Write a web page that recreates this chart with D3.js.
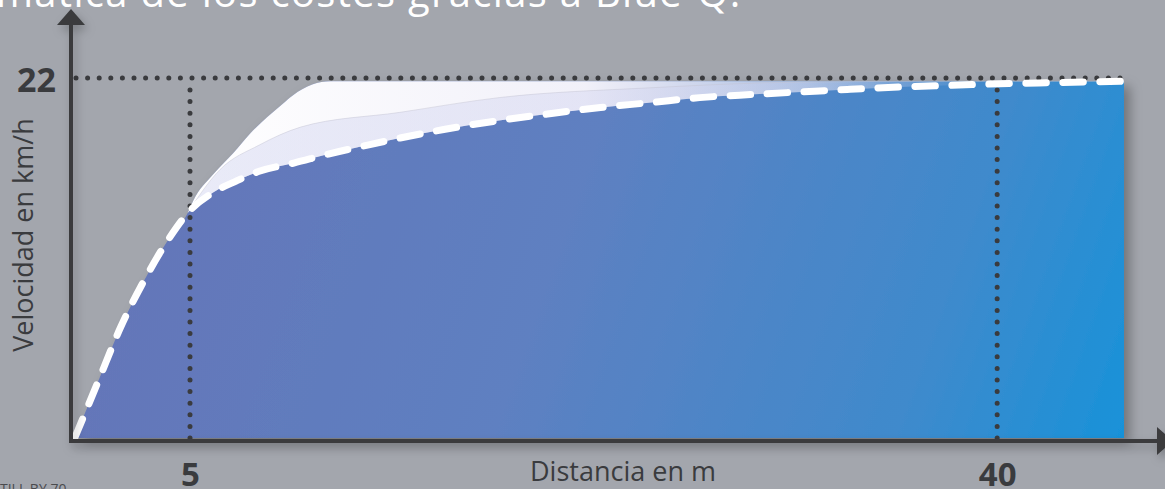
<!DOCTYPE html>
<html>
<head>
<meta charset="utf-8">
<script src="https://cdn.jsdelivr.net/npm/d3@7"></script>
<style>
  html, body { margin: 0; padding: 0; background: #a3a6ad; overflow: hidden; }
  svg { display: block; font-family: "Open Sans", "DejaVu Sans", sans-serif; }
</style>
</head>
<body>
<div id="chart"></div>
<script>
// speed curve (dashed) - distance in m, speed in km/h
var distance = [0, 1, 2, 3, 4, 5, 6, 7, 8, 9.5, 11, 12.7, 14, 16, 18.4, 20.5, 22.8, 25, 27.1, 29.5, 31.5, 33.5, 35.8, 38, 40.1, 42.5, 45.5]
var speed = [0, 3.4, 6.8, 9.6, 12.0, 13.9, 15.0, 15.7, 16.3, 16.8, 17.35, 17.9, 18.3, 18.85, 19.4, 19.8, 20.2, 20.5, 20.8, 21.0, 21.15, 21.3, 21.45, 21.55, 21.65, 21.72, 21.8]

// upper edge of the white "potential" shape
var upperDistance = [4.9, 5.14, 6, 6.87, 7.6, 8.34, 9.0, 9.47, 10.3, 11.1, 20, 30, 45.5]
var upperSpeed = [13.75, 14.5, 16.1, 17.4, 18.6, 19.6, 20.4, 20.95, 21.6, 21.8, 21.8, 21.8, 21.8]

// faint line inside the white shape
var innerDistance = [5.0, 6.3, 8.0, 9.8, 14.1, 18.4, 24.95, 31.5, 38, 45.5]
var innerSpeed = [14.0, 16.4, 17.9, 19.0, 19.9, 20.8, 21.4, 21.75, 21.8, 21.8]

var xTicks = [5, 40]
var yTicks = [22]
var xMax = 45.5
var yMax = 22

var W = 1165, H = 489

var svg = d3.select("#chart").append("svg")
    .attr("width", W)
    .attr("height", H)

var defs = svg.append("defs")

var x = d3.scaleLinear().domain([0, xMax]).range([74.7, 1124])
var y = d3.scaleLinear().domain([0, yMax]).range([438, 78])

// gradients
var blueGrad = defs.append("linearGradient").attr("id", "blueGrad")
    .attr("gradientUnits", "userSpaceOnUse")
    .attr("x1", 100).attr("y1", 80).attr("x2", 1125).attr("y2", 440)
blueGrad.append("stop").attr("offset", 0).attr("stop-color", "#6674b7")
blueGrad.append("stop").attr("offset", 0.45).attr("stop-color", "#5e80c1")
blueGrad.append("stop").attr("offset", 0.8).attr("stop-color", "#3f8acc")
blueGrad.append("stop").attr("offset", 1).attr("stop-color", "#1892d9")

var whiteGrad = defs.append("linearGradient").attr("id", "whiteGrad")
    .attr("gradientUnits", "userSpaceOnUse")
    .attr("x1", 190).attr("y1", 0).attr("x2", 980).attr("y2", 0)
whiteGrad.append("stop").attr("offset", 0).attr("stop-color", "#ffffff").attr("stop-opacity", 1)
whiteGrad.append("stop").attr("offset", 0.5).attr("stop-color", "#f6f4fb").attr("stop-opacity", 0.97)
whiteGrad.append("stop").attr("offset", 0.78).attr("stop-color", "#e8e7f5").attr("stop-opacity", 0.6)
whiteGrad.append("stop").attr("offset", 1).attr("stop-color", "#dcdcf0").attr("stop-opacity", 0)

var lavGrad = defs.append("linearGradient").attr("id", "lavGrad")
    .attr("gradientUnits", "userSpaceOnUse")
    .attr("x1", 190).attr("y1", 0).attr("x2", 900).attr("y2", 0)
lavGrad.append("stop").attr("offset", 0).attr("stop-color", "#cfd2ef").attr("stop-opacity", 0.45)
lavGrad.append("stop").attr("offset", 0.6).attr("stop-color", "#cfd2ef").attr("stop-opacity", 0.4)
lavGrad.append("stop").attr("offset", 1).attr("stop-color", "#cfd2ef").attr("stop-opacity", 0)

var shadow = defs.append("filter").attr("id", "shadow")
    .attr("x", "-5%").attr("y", "-5%").attr("width", "115%").attr("height", "125%")
shadow.append("feDropShadow")
    .attr("dx", 6).attr("dy", 5).attr("stdDeviation", 6)
    .attr("flood-color", "#000").attr("flood-opacity", 0.3)

var axShadow = defs.append("filter").attr("id", "axShadow")
    .attr("x", "-5%").attr("y", "-5%").attr("width", "115%").attr("height", "130%")
axShadow.append("feDropShadow")
    .attr("dx", 3).attr("dy", 5).attr("stdDeviation", 5)
    .attr("flood-color", "#000").attr("flood-opacity", 0.25)

// title (cut off at top, as in the source)
svg.append("text")
    .attr("x", -4)
    .attr("y", 7)
    .attr("fill", "#ffffff")
    .style("font-size", "40px")
    .style("letter-spacing", "1.3px")
    .text("mática de los costes gracias a Blue-Q.")

var pts = distance.map(function (d, i) { return [d, speed[i]] })
var upPts = upperDistance.map(function (d, i) { return [d, upperSpeed[i]] })
var inPts = innerDistance.map(function (d, i) { return [d, innerSpeed[i]] })

var line = d3.line()
    .x(function (d) { return x(d[0]) })
    .y(function (d) { return y(d[1]) })
    .curve(d3.curveMonotoneX)

// blue area: dashed curve until the white shape starts, then the upper edge
var bluePts = pts.filter(function (d) { return d[0] < upperDistance[0] }).concat(upPts)
var blueArea = d3.area()
    .x(function (d) { return x(d[0]) })
    .y0(y(0))
    .y1(function (d) { return y(d[1]) })
    .curve(d3.curveMonotoneX)

svg.append("path")
    .datum(bluePts)
    .attr("d", blueArea)
    .attr("fill", "url(#blueGrad)")
    .attr("filter", "url(#shadow)")

// white shape between upper edge and dashed curve
var tailPts = pts.filter(function (d) { return d[0] >= upperDistance[0] })

function band(topPts, botPts) {
    var a = line(topPts)
    var b = line(botPts.slice().reverse())
    return a + "L" + b.slice(1) + "Z"
}

svg.append("path")
    .attr("d", band(upPts, tailPts))
    .attr("fill", "url(#whiteGrad)")

svg.append("path")
    .attr("d", band(inPts, tailPts.filter(function (d) { return d[0] >= 5 })))
    .attr("fill", "url(#lavGrad)")

svg.append("path")
    .datum(inPts)
    .attr("d", line)
    .attr("fill", "none")
    .attr("stroke", "#c4c4d2")
    .attr("stroke-width", 0.8)
    .attr("stroke-opacity", 0.6)

// dotted guides
var dots = svg.append("g")
    .attr("stroke", "#3a3b3e")
    .attr("stroke-width", 5)
    .attr("stroke-linecap", "round")
    .attr("stroke-dasharray", "0 11.6")
    .attr("fill", "none")

dots.append("line")
    .attr("x1", 76).attr("x2", x(xMax))
    .attr("y1", y(yMax)).attr("y2", y(yMax))

xTicks.forEach(function (t) {
    dots.append("line")
        .attr("x1", x(t)).attr("x2", x(t))
        .attr("y1", y(0)).attr("y2", y(yMax) + 8)
})

// dashed speed curve
svg.append("path")
    .datum(pts)
    .attr("d", line)
    .attr("fill", "none")
    .attr("stroke", "#ffffff")
    .attr("stroke-width", 7)
    .attr("stroke-linecap", "round")
    .attr("stroke-dasharray", "20.5 16.5")

// axes with arrows
var ax = svg.append("g").attr("filter", "url(#axShadow)")
ax.append("line")
    .attr("x1", 71).attr("x2", 71)
    .attr("y1", 443).attr("y2", 22)
    .attr("stroke", "#3a3b3e").attr("stroke-width", 4)
ax.append("path")
    .attr("d", "M57,25L85,25L71,9Z")
    .attr("fill", "#3a3b3e")
ax.append("line")
    .attr("x1", 69).attr("x2", 1160)
    .attr("y1", 441).attr("y2", 441)
    .attr("stroke", "#3a3b3e").attr("stroke-width", 4)
ax.append("path")
    .attr("d", "M1157,427L1157,455L1173,441Z")
    .attr("fill", "#3a3b3e")

// tick labels via d3 axes
var xAxis = svg.append("g")
    .attr("transform", "translate(0,458)")
    .call(d3.axisBottom(x).tickValues(xTicks).tickSize(0).tickPadding(0))
xAxis.select(".domain").remove()
xAxis.selectAll("text")
    .attr("y", 28)
    .attr("dy", 0)
    .attr("fill", "#3a3b3e")
    .style("font-size", "33px")
    .style("font-weight", 700)
    .style("font-family", "'Open Sans', sans-serif")

var yAxis = svg.append("g")
    .attr("transform", "translate(56,2)")
    .call(d3.axisLeft(y).tickValues(yTicks).tickSize(0).tickPadding(0))
yAxis.select(".domain").remove()
yAxis.selectAll("text")
    .attr("dy", "0.35em")
    .attr("fill", "#3a3b3e")
    .style("font-size", "34px")
    .style("font-weight", 700)
    .style("font-family", "'Open Sans', sans-serif")

// axis titles
svg.append("text")
    .attr("transform", "translate(33,235) rotate(-90)")
    .attr("text-anchor", "middle")
    .attr("fill", "#3a3b3e")
    .style("font-size", "27px")
    .text("Velocidad en km/h")

svg.append("text")
    .attr("x", 623)
    .attr("y", 481)
    .attr("text-anchor", "middle")
    .attr("fill", "#3a3b3e")
    .style("font-size", "27px")
    .text("Distancia en m")

svg.append("text")
    .attr("x", 0)
    .attr("y", 494)
    .attr("fill", "#4a4b4e")
    .style("font-size", "14px")
    .text("TILL BY 70")
</script>
</body>
</html>
